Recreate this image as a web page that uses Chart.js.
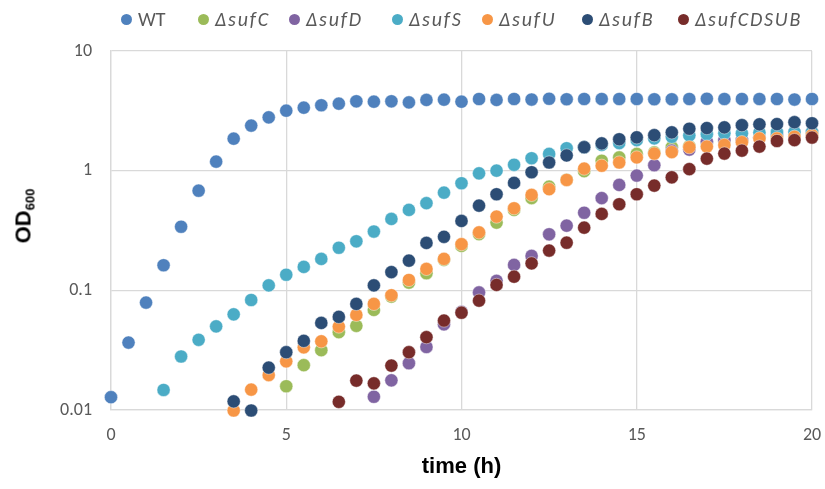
<!DOCTYPE html>
<html>
<head>
<meta charset="utf-8">
<script src="https://cdn.jsdelivr.net/npm/chart.js@4/dist/chart.umd.min.js"></script>
<style>
  html, body { margin: 0; padding: 0; background: #fff; }
  #wrap { position: relative; width: 825px; height: 489px; overflow: hidden; }
  #c { position: absolute; left: 0; top: 0; }
  .leg { position: absolute; top: 8px; height: 22px; display: flex; align-items: center;
         font-family: Carlito, Lato, "Open Sans", sans-serif; font-size: 20px; color: #595959; white-space: nowrap; }
  .leg .dot { width: 11px; height: 11px; border-radius: 50%; margin-right: 6px; flex: none; }
  .leg.it span.t { font-style: italic; letter-spacing: 1.8px; }
  #ytitle { position: absolute; left: 24px; top: 216px; transform: translate(-50%, -50%) rotate(-90deg);
            font-family: "Liberation Sans", Arial, sans-serif; font-weight: bold; font-size: 22px; color: #000; white-space: nowrap; }
  #ytitle sub { font-size: 13px; vertical-align: -4px; }
</style>
</head>
<body>
<div id="wrap">
  <canvas id="c" width="825" height="489"></canvas>
  <div id="legend"></div>
  <div id="ytitle">OD<sub>600</sub></div>
</div>
<script>
// ---- data ----
const time = [0,0.5,1,1.5,2,2.5,3,3.5,4,4.5,5,5.5,6,6.5,7,7.5,8,8.5,9,9.5,10,
              10.5,11,11.5,12,12.5,13,13.5,14,14.5,15,15.5,16,16.5,17,17.5,18,18.5,19,19.5,20];
const seriesNames = ["WT", "\u0394sufC", "\u0394sufD", "\u0394sufS", "\u0394sufU", "\u0394sufB", "\u0394sufCDSUB"];
const WT = [0.0128,0.0366,0.079,0.162,0.34,0.68,1.19,1.85,2.38,2.79,3.17,3.36,3.52,3.63,3.8,3.77,3.8,3.72,3.9,3.92,3.77,
            3.97,3.9,3.97,3.93,3.99,3.95,3.97,3.97,3.97,3.97,3.95,3.95,3.97,3.99,3.97,3.97,3.97,3.97,3.93,3.97];
const sufC = [null,null,null,null,null,null,null,null,null,null,
              0.0158,0.0237,0.0316,0.0447,0.0505,0.0686,0.0886,0.116,0.139,0.18,0.235,
              0.295,0.368,0.47,0.59,0.735,0.84,0.99,1.21,1.29,1.38,1.42,1.57,1.6,1.7,1.75,1.8,1.9,1.95,2.0,2.05];
const sufD = [null,null,null,null,null,null,null,null,null,null,null,null,null,null,null,
              0.0129,0.0177,0.0246,0.0336,0.052,0.066,
              0.096,0.12,0.163,0.194,0.294,0.347,0.445,0.59,0.76,0.91,1.11,1.47,1.5,1.75,1.8,1.8,1.9,2.0,2.1,2.1];
const sufS = [null,null,null,
              0.0147,0.028,0.0386,0.05,0.063,0.083,0.11,0.135,0.157,0.183,0.227,0.257,0.31,0.395,0.47,0.535,0.655,0.785,
              0.95,1.0,1.12,1.27,1.38,1.54,1.57,1.64,1.7,1.8,1.86,1.92,1.97,2.02,2.05,2.05,2.08,2.1,2.1,2.1];
const sufU = [null,null,null,null,null,null,null,
              0.0099,0.0148,0.0196,0.0255,0.0334,0.0375,0.0498,0.0623,0.077,0.091,0.122,0.151,0.183,0.243,
              0.305,0.413,0.485,0.627,0.70,0.836,1.04,1.1,1.17,1.29,1.39,1.43,1.57,1.59,1.64,1.73,1.86,1.86,1.92,1.98];
const sufB = [null,null,null,null,null,null,null,
              0.0118,0.0099,0.0226,0.0304,0.0378,0.0534,0.06,0.077,0.11,0.142,0.177,0.249,0.28,0.38,
              0.51,0.635,0.79,0.97,1.17,1.34,1.57,1.69,1.83,1.9,1.98,2.09,2.24,2.27,2.3,2.4,2.44,2.45,2.54,2.49];
const sufCDSUB = [null,null,null,null,null,null,null,null,null,null,null,null,null,
              0.0117,0.0176,0.0167,0.0235,0.0304,0.0406,0.0559,0.065,
              0.082,0.111,0.13,0.168,0.215,0.25,0.334,0.435,0.524,0.635,0.75,0.88,1.03,1.26,1.39,1.47,1.59,1.77,1.8,1.89];
const xTicks = [0, 5, 10, 15, 20];
const yTicks = [0.01, 0.1, 1, 10];

// ---- styling ----
const colors = ["#4F81BD", "#9BBB59", "#8064A2", "#4BACC6", "#F79646", "#2C4D75", "#772C2A"];
const allSeries = [WT, sufC, sufD, sufS, sufU, sufB, sufCDSUB];
const legendLeft = [121, 198, 289, 392, 482, 582, 678];

const datasets = allSeries.map((vals, i) => ({
  label: seriesNames[i],
  data: time.map((t, j) => (vals[j] == null ? null : { x: t, y: vals[j] })).filter(p => p),
  backgroundColor: colors[i],
  borderColor: 'rgba(255,255,255,0.55)',
  pointBorderWidth: 0.8,
  pointRadius: 6.6,
  pointHoverRadius: 6.6,
  showLine: false,
  clip: false,
  order: allSeries.length - i
}));

// HTML legend
const legendEl = document.getElementById('legend');
seriesNames.forEach((name, i) => {
  const item = document.createElement('div');
  item.className = 'leg' + (i > 0 ? ' it' : '');
  item.style.left = legendLeft[i] + 'px';
  item.innerHTML = '<span class="dot" style="background:' + colors[i] + '"></span><span class="t">' + name + '</span>';
  legendEl.appendChild(item);
});

const tickFont = { family: 'Carlito, Lato, "Open Sans", sans-serif', size: 18 };

new Chart(document.getElementById('c'), {
  type: 'scatter',
  data: { datasets },
  options: {
    responsive: false,
    animation: false,
    events: [],
    layout: { padding: { top: 51, right: 13, left: 0, bottom: 0 } },
    plugins: { legend: { display: false }, tooltip: { enabled: false } },
    scales: {
      x: {
        type: 'linear', min: 0, max: 20,
        afterBuildTicks: s => { s.ticks = xTicks.map(v => ({ value: v })); },
        ticks: { color: '#595959', font: tickFont, padding: 15, maxRotation: 0 },
        grid: { color: '#D9D9D9', lineWidth: 1.3, drawTicks: false },
        border: { color: '#D9D9D9', width: 1.3 },
        title: { display: true, text: 'time (h)', color: '#000',
                 font: { family: '"Liberation Sans", Arial, sans-serif', weight: 'bold', size: 22 },
                 padding: { top: 0, bottom: 9 } },
        afterFit: s => { s.height = 79; s.paddingRight = 0; s.paddingLeft = 0; }
      },
      y: {
        type: 'logarithmic', min: 0.01, max: 10,
        afterBuildTicks: s => { s.ticks = yTicks.map(v => ({ value: v })); },
        ticks: { color: '#595959', font: tickFont, padding: 19, callback: v => String(v) },
        grid: { color: '#D9D9D9', lineWidth: 1.3, drawTicks: false },
        border: { color: '#D9D9D9', width: 1.3 },
        afterFit: s => { s.width = 111; s.paddingTop = 0; s.paddingBottom = 0; }
      }
    }
  }
});
</script>
</body>
</html>
